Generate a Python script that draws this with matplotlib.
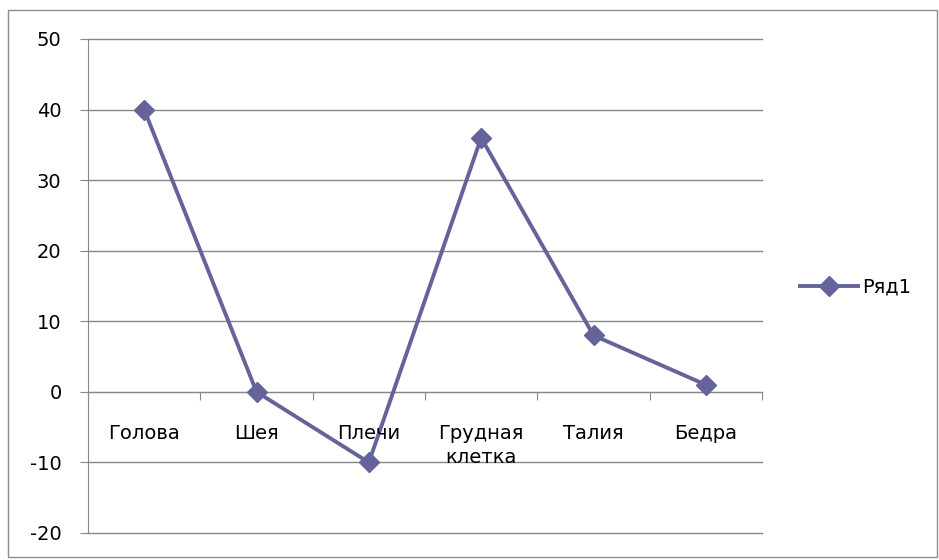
import matplotlib.pyplot as plt
import matplotlib.patches as mpatches

plt.rcParams['font.family'] = ['DejaVu Sans']
plt.rcParams['axes.unicode_minus'] = False

categories = ['Голова', 'Шея', 'Плечи', 'Грудная\nклетка', 'Талия', 'Бедра']
values = [40, 0, -10, 36, 8, 1]
series_name = 'Ряд1'
y_ticks = [-20, -10, 0, 10, 20, 30, 40, 50]

line_color = '#64649a'
grid_color = '#878787'

fig = plt.figure(figsize=(9.39, 5.6), dpi=100)
ax = fig.add_axes([88 / 939, 1 - 533 / 560, (762 - 88) / 939, (533 - 39) / 560])

x = list(range(len(categories)))
ax.plot(x, values, color=line_color, lw=2.8, marker='D', ms=10.5,
        markerfacecolor=line_color, markeredgecolor=line_color, label=series_name, zorder=3)

ax.set_xlim(-0.5, len(categories) - 0.5)
ax.set_ylim(y_ticks[0], y_ticks[-1])
ax.set_yticks(y_ticks)
ax.yaxis.grid(True, color=grid_color, lw=1)
for gl in ax.get_ygridlines():
    gl.set_clip_on(False)
ax.set_axisbelow(True)

# x axis sits on zero, ticks at category boundaries
ax.spines['bottom'].set_position(('data', 0))
ax.spines['bottom'].set_color(grid_color)
ax.spines['left'].set_color(grid_color)
ax.spines['top'].set_visible(False)
ax.spines['right'].set_visible(False)
ax.set_xticks([i - 0.5 for i in range(len(categories) + 1)])
ax.set_xticklabels([])
ax.tick_params(axis='x', direction='out', length=6, color=grid_color)
ax.tick_params(axis='y', direction='out', length=6, color=grid_color, labelsize=14, pad=13)

for xi, name in zip(x, categories):
    ax.text(xi, -4.6, name, ha='center', va='top', fontsize=14, linespacing=1.3)

ax.legend(loc='center left', bbox_to_anchor=(782 / 939, 1 - 287 / 560), bbox_transform=fig.transFigure,
          frameon=False, fontsize=14, handlelength=3.0, handletextpad=0.2)

# outer chart border
fig.patches.append(mpatches.Rectangle((8 / 939, 1 - 557 / 560), 929 / 939, 547 / 560,
                                      transform=fig.transFigure, fill=False, ec='#8c8c8c', lw=1))

fig.savefig('out.png', dpi=100)
